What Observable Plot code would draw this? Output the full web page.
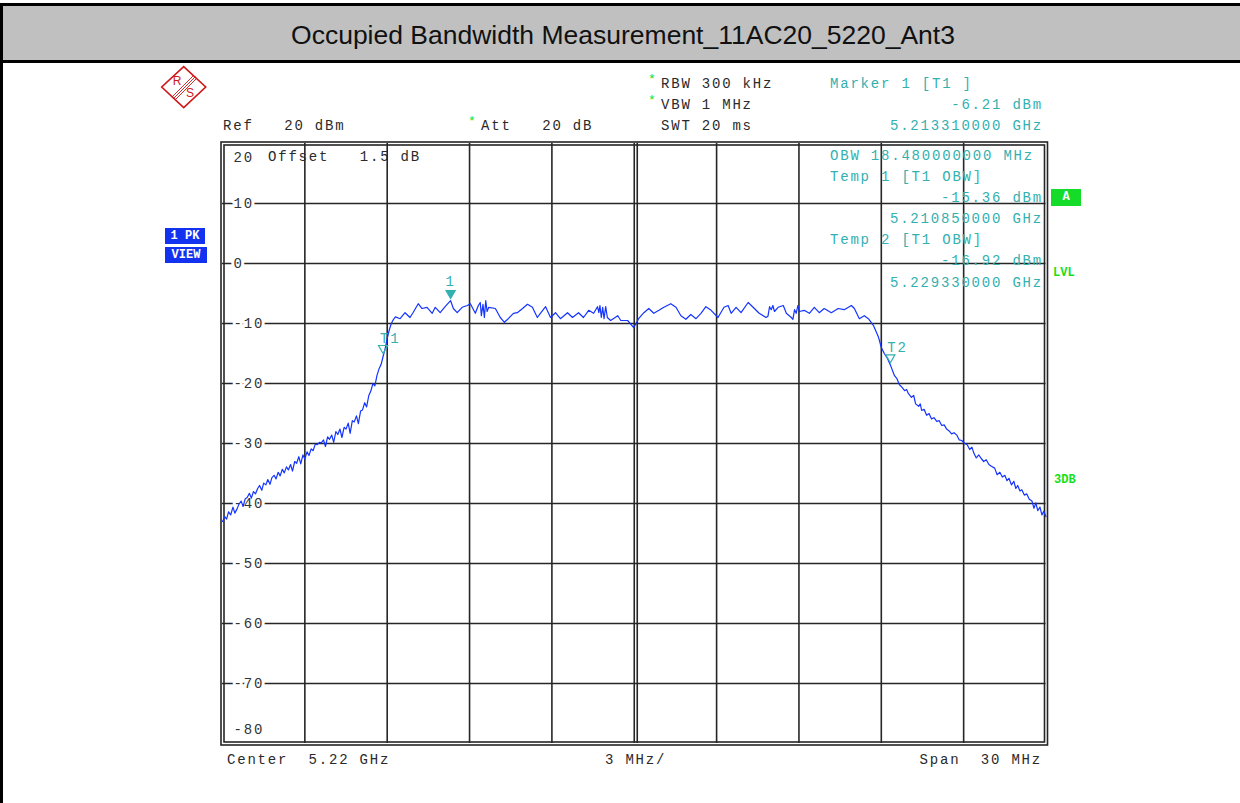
<!DOCTYPE html>
<html><head><meta charset="utf-8">
<script src="https://cdn.jsdelivr.net/npm/d3@7"></script>
<script src="https://cdn.jsdelivr.net/npm/@observablehq/plot@0.6"></script>
<style>
html,body{margin:0;padding:0;background:#fff;}
body{width:1240px;height:803px;position:relative;overflow:hidden;font-family:"Liberation Mono",monospace;}
#titlebar{position:absolute;left:0;top:3px;width:1240px;height:54px;background:#c0c0c0;border-top:3px solid #000;border-bottom:3px solid #000;border-left:3px solid #000;box-sizing:content-box;}
#titlebar div{position:absolute;left:0;right:0;top:2px;height:54px;line-height:54px;text-align:center;font-family:"Liberation Sans",Arial,sans-serif;font-size:26.5px;color:#111;}
#leftline{position:absolute;left:0;top:60px;width:3px;height:743px;background:#000;}
#chart{position:absolute;left:0;top:62px;}
.t{position:absolute;font-size:14px;letter-spacing:1.8px;white-space:pre;line-height:20px;height:20px;color:#2a2a2a;}
.m{color:#33b0b0;}
.r{text-align:right;}
.g{color:#18e018;font-size:13px;}
.box{position:absolute;font-family:"Liberation Mono",monospace;font-weight:bold;font-size:12px;color:#fff;text-align:center;white-space:pre;}
</style></head>
<body>
<div id="titlebar"><div>Occupied Bandwidth Measurement_11AC20_5220_Ant3</div></div>
<div id="leftline"></div>
<div id="chart"></div>

<svg style="position:absolute;left:160px;top:65px" width="48" height="46" viewBox="0 0 48 46">
  <polygon points="23.7,1.7 45.7,22 23.7,42.7 1.7,22" fill="none" stroke="#d01818" stroke-width="1.6"/>
  <line x1="12" y1="32" x2="34" y2="10" stroke="#d01818" stroke-width="0.9"/>
  <line x1="13.5" y1="33.5" x2="35.5" y2="11.5" stroke="#d01818" stroke-width="0.9"/>
  <line x1="15" y1="35" x2="37" y2="13" stroke="#d01818" stroke-width="0.9"/>
  <text x="17" y="20" font-family="Liberation Sans" font-size="12" fill="#d01818" text-anchor="middle">R</text>
  <text x="30" y="32" font-family="Liberation Sans" font-size="12" fill="#d01818" text-anchor="middle">S</text>
</svg>

<!-- header texts -->
<div class="t g" style="left:648px;top:70px;">*</div>
<div class="t" style="left:661px;top:74px;">RBW 300 kHz</div>
<div class="t g" style="left:648px;top:91px;">*</div>
<div class="t" style="left:661px;top:95px;">VBW 1 MHz</div>
<div class="t" style="left:661px;top:116px;">SWT 20 ms</div>
<div class="t" style="left:223px;top:116px;">Ref   20 dBm</div>
<div class="t g" style="left:468px;top:112px;">*</div>
<div class="t" style="left:481px;top:116px;">Att   20 dB</div>
<div class="t m" style="left:830px;top:74px;">Marker 1 [T1 ]</div>
<div class="t m r" style="right:197px;top:95px;">-6.21 dBm</div>
<div class="t m r" style="right:197px;top:116px;">5.213310000 GHz</div>

<div class="t" style="left:268px;top:147px;">Offset   1.5 dB</div>
<div class="t m" style="left:830px;top:146px;">OBW 18.480000000 MHz</div>
<div class="t m" style="left:830px;top:167px;">Temp 1 [T1 OBW]</div>
<div class="t m r" style="right:197px;top:188px;">-15.36 dBm</div>
<div class="t m r" style="right:197px;top:209px;">5.210850000 GHz</div>
<div class="t m" style="left:830px;top:230px;">Temp 2 [T1 OBW]</div>
<div class="t m r" style="right:197px;top:251px;">-16.92 dBm</div>
<div class="t m r" style="right:197px;top:273px;">5.229330000 GHz</div>

<div class="t" style="left:227px;top:750px;">Center  5.22 GHz</div>
<div class="t" style="left:605px;top:750px;">3 MHz/</div>
<div class="t r" style="right:198px;top:750px;">Span  30 MHz</div>

<div class="box" style="left:165px;top:228px;width:40px;height:16px;line-height:16px;background:#1232f0;">1 PK</div>
<div class="box" style="left:165px;top:247px;width:42px;height:16px;line-height:16px;background:#1232f0;">VIEW</div>
<div class="box" style="left:1051px;top:189px;width:30px;height:17px;line-height:17px;background:#14dc28;">A</div>
<div class="box" style="left:1053px;top:265px;color:#18e018;font-size:12px;line-height:16px;">LVL</div>
<div class="box" style="left:1054px;top:472px;color:#18e018;font-size:12px;line-height:16px;">3DB</div>

<script>
// Spectrum trace: frequency offset from centre (MHz) and level (dBm)
const centerGHz = 5.22;

// lower skirt
const lowSkirtMHz = [
-15.00,-14.92,-14.85,-14.78,-14.70,-14.62,-14.55,-14.47,-14.40,-14.32,-14.25,-14.17,-14.10,-14.02,-13.95,-13.87,-13.80,-13.72,-13.65,-13.57,
-13.50,-13.42,-13.35,-13.27,-13.20,-13.12,-13.05,-12.97,-12.90,-12.82,-12.75,-12.67,-12.60,-12.52,-12.45,-12.37,-12.30,-12.22,-12.15,-12.07,
-12.00,-11.92,-11.85,-11.77,-11.70,-11.62,-11.55,-11.47,-11.40,-11.32,-11.25,-11.17,-11.10,-11.02,-10.95,-10.87,-10.80,-10.72,-10.65,-10.57,
-10.50,-10.42,-10.35,-10.27,-10.20,-10.12,-10.05,-9.97,-9.90,-9.82,-9.75,-9.67,-9.60,-9.52,-9.45,-9.37,-9.30,-9.22,-9.15,-9.07,
-9.00,-8.92,-8.85,-8.77,-8.70
];
const lowSkirtDbm = [
-43.0,-42.2,-42.6,-41.4,-41.9,-40.6,-41.6,-40.9,-40.1,-39.6,-40.5,-39.2,-39.0,-38.3,-39.1,-38.0,-38.4,-37.5,-37.0,-37.8,
-36.6,-36.9,-36.0,-36.8,-35.7,-35.3,-35.9,-34.8,-35.4,-34.3,-34.9,-33.9,-34.4,-33.5,-34.6,-33.0,-33.3,-32.2,-33.4,-31.9,
-32.6,-31.4,-32.0,-30.9,-31.2,-30.1,-30.2,-29.8,-29.9,-29.4,-30.5,-28.9,-29.3,-28.6,-29.8,-28.0,-28.5,-27.6,-29.0,-27.3,
-27.6,-26.6,-28.3,-26.2,-26.4,-25.4,-26.7,-24.6,-24.4,-23.2,-23.9,-22.0,-21.3,-20.0,-20.4,-18.6,-17.6,-16.8,-15.5,-14.1,
-12.5,-11.0,-10.0,-9.3,-8.9
];

// occupied band (flat top)
const topMHz = [
-8.53,-8.35,-8.17,-8.06,-7.87,-7.73,-7.55,-7.36,-7.25,-7.07,
-6.89,-6.69,-6.59,-6.45,-6.27,-6.08,-5.97,-5.79,-5.68,-5.61,
-5.57,-5.51,-5.46,-5.41,-5.36,-5.30,-5.06,-4.88,-4.73,-4.59,
-4.40,-4.26,-4.07,-3.89,-3.71,-3.53,-3.42,-3.23,-3.05,-2.87,
-2.69,-2.43,-2.25,-2.03,-1.85,-1.66,-1.48,-1.34,-1.29,-1.25,
-1.20,-1.15,-1.10,-1.04,-0.98,-0.86,-0.60,-0.49,-0.24,-0.02,
0.16,0.35,0.53,0.71,0.90,1.08,1.33,1.52,1.70,1.88,
2.06,2.25,2.43,2.61,2.80,3.05,3.27,3.42,3.53,3.71,
3.89,4.15,4.33,4.55,4.80,4.87,4.93,4.99,5.05,5.11,
5.24,5.43,5.54,5.72,5.78,5.84,5.90,5.96,6.02,6.19,
6.38,6.56,6.74,6.92,7.18,7.43,7.65,7.91,8.02,8.20,
8.38,8.53,8.71
];
const topDbm = [
-9.2,-8.2,-9.0,-8.2,-6.7,-7.5,-7.3,-8.3,-7.3,-8.2,
-7.2,-6.2,-7.5,-8.2,-7.3,-7.0,-6.7,-8.3,-7.0,-6.5,
-8.7,-6.8,-9.0,-6.2,-8.0,-7.3,-7.5,-9.0,-9.8,-9.2,
-8.3,-8.2,-7.5,-6.8,-7.3,-9.0,-8.3,-7.2,-9.0,-8.2,
-9.2,-8.2,-9.0,-8.2,-9.0,-7.8,-8.3,-7.2,-8.2,-7.0,
-9.0,-7.3,-9.2,-7.2,-9.0,-9.5,-8.7,-9.5,-9.5,-10.7,
-9.2,-8.2,-7.5,-8.3,-7.8,-7.3,-6.7,-7.3,-8.7,-9.3,
-8.5,-9.2,-8.3,-7.2,-7.8,-9.0,-7.3,-7.0,-8.3,-7.3,
-8.2,-6.5,-7.3,-8.3,-9.0,-8.8,-7.2,-7.7,-7.0,-8.0,
-7.3,-7.0,-8.3,-9.0,-9.3,-7.7,-8.3,-7.0,-8.0,-7.8,
-8.3,-7.3,-8.2,-7.5,-8.2,-7.5,-7.7,-7.0,-7.5,-9.2,
-8.7,-9.2,-10.3
];

// upper skirt
const highSkirtMHz = [
8.90,9.00,9.11,9.22,9.33,9.48,9.57,9.66,9.75,9.85,
9.92,9.99,10.10,10.18,10.25,10.36,10.42,10.47,10.56,10.65,
10.74,10.83,10.92,11.02,11.11,11.20,11.29,11.38,11.47,11.56,
11.65,11.75,11.84,11.93,12.04,12.13,12.22,12.30,12.37,12.46,
12.55,12.64,12.73,12.82,12.92,13.01,13.13,13.22,13.32,13.41,
13.50,13.58,13.65,13.74,13.83,13.90,13.97,14.05,14.12,14.21,
14.30,14.39,14.49,14.56,14.63,14.70,14.78,14.85,14.92,15.00
];
const highSkirtDbm = [
-12.3,-14.0,-15.0,-15.8,-16.9,-18.7,-19.2,-20.2,-20.6,-21.2,
-21.0,-21.7,-22.3,-22.0,-23.4,-23.8,-23.4,-24.5,-24.3,-25.3,
-25.0,-25.9,-25.7,-26.3,-26.2,-27.0,-26.9,-27.6,-27.9,-28.4,
-28.2,-28.6,-29.4,-29.5,-30.0,-30.2,-31.0,-30.6,-31.6,-32.4,
-31.9,-32.5,-33.0,-32.7,-33.5,-33.8,-34.1,-35.2,-34.8,-35.6,
-35.3,-36.2,-35.8,-36.9,-36.3,-37.5,-37.0,-37.9,-37.7,-38.6,
-38.4,-39.3,-39.6,-40.8,-39.9,-41.2,-40.6,-41.9,-41.3,-42.2
];

// Axes / grid
const xGridMHz = [-15,-12,-9,-6,-3,0,3,6,9,12,15];
const yGridDb = [20,10,0,-10,-20,-30,-40,-50,-60,-70,-80];
const yTickLabels = ["20","10","0","-10","-20","-30","-40","-50","-60","-70","-80"];

// Markers
const markerNames = ["1","T1","T2"];
const markerFreqGHz = [5.21331, 5.21085, 5.22933];
const markerLevelDbm = [-6.21, -15.36, -16.92];

const freqOffsetMHz = [...lowSkirtMHz, ...topMHz, ...highSkirtMHz];
const levelDbm = [...lowSkirtDbm, ...topDbm, ...highSkirtDbm];
const trace = freqOffsetMHz.map((f, i) => ({f, db: levelDbm[i]}));
const ticks = yGridDb.map((v, i) => ({v, label: yTickLabels[i]}));
const markers = markerNames.map((n, i) => ({name: n, f: (markerFreqGHz[i] - centerGHz) * 1000, db: markerLevelDbm[i]}));

const teal = "#33b0b0";
const gridColor = "#262626";

const chart = Plot.plot({
  width: 1240,
  height: 741,
  marginLeft: 222,
  marginRight: 194.5,
  marginTop: 81,
  marginBottom: 60,
  x: {domain: [-15, 15], axis: null},
  y: {domain: [-80, 20], axis: null},
  style: {background: "transparent", fontFamily: "Liberation Mono, monospace", fontSize: "14px", letterSpacing: "1.8px", overflow: "visible"},
  marks: [
    Plot.ruleX(xGridMHz.slice(1, -1), {stroke: gridColor, strokeWidth: 1.6}),
    Plot.ruleX([0], {dx: 3, stroke: gridColor, strokeWidth: 1.6}),
    Plot.ruleY(yGridDb.slice(1, -1), {stroke: gridColor, strokeWidth: 1.6}),
    Plot.text(ticks.filter(d => d.v < 20 && d.v > -80), {y: "v", text: "label", frameAnchor: "left", textAnchor: "start", dx: 11, fill: "#333", stroke: "white", strokeWidth: 6, paintOrder: "stroke"}),
    Plot.text(ticks.filter(d => d.v === 20), {y: "v", text: "label", frameAnchor: "left", textAnchor: "start", dx: 11, dy: 14, fill: "#333"}),
    Plot.text(ticks.filter(d => d.v === -80), {y: "v", text: "label", frameAnchor: "left", textAnchor: "start", dx: 11, dy: -14, fill: "#333"}),
    Plot.frame({inset: -1.5, stroke: gridColor, strokeWidth: 1.6}),
    Plot.frame({inset: 1.5, stroke: gridColor, strokeWidth: 1.6}),
    Plot.line(trace, {x: "f", y: "db", stroke: "#1434ff", strokeWidth: 1.2}),
    Plot.dot(markers, {x: "f", y: "db", symbol: "triangle", rotate: 180, r: 3.4, dy: -7.5,
      fill: d => d.name === "1" ? teal : "none", stroke: teal, strokeWidth: 1.2}),
    Plot.text(markers.filter(d => d.name === "1"), {x: "f", y: "db", text: "name", dy: -19, fill: teal}),
    Plot.text(markers.filter(d => d.name !== "1"), {x: "f", y: "db", text: "name", textAnchor: "start", dx: -3, dy: -17.5, fill: teal})
  ]
});
document.getElementById("chart").appendChild(chart);
</script>
</body></html>
